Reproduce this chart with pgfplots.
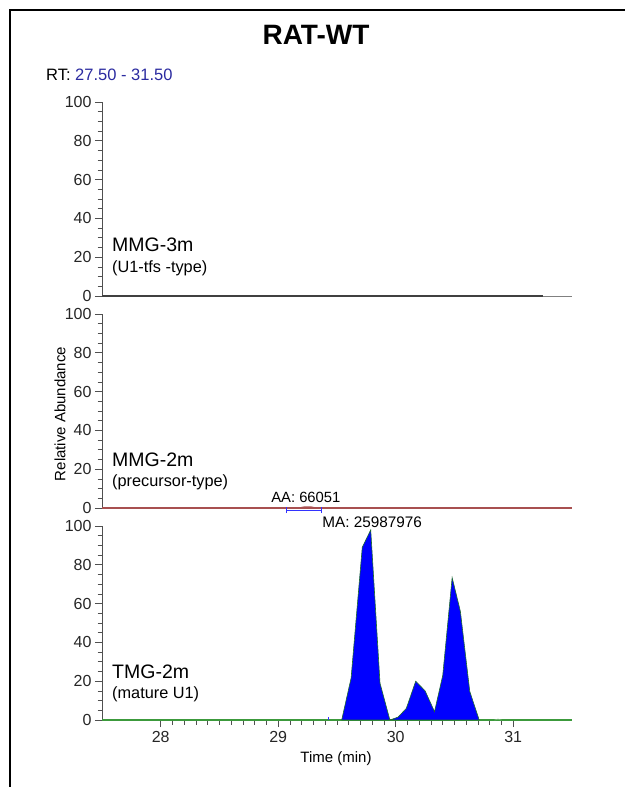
\documentclass[border=0pt]{standalone}
\usepackage{pgfplots}
\pgfplotsset{compat=1.18}
\usepackage{fontspec}
\setmainfont{Liberation Sans}
\definecolor{axgray}{HTML}{505050}
\definecolor{tracegray}{HTML}{404040}
\definecolor{basegreen}{HTML}{3C9A3C}
\definecolor{edgegreen}{HTML}{1E6B2E}
\definecolor{peakblue}{HTML}{0000FF}
\definecolor{rtblue}{HTML}{2B2BA0}
\definecolor{basered}{HTML}{A85050}
\pgfplotsset{
  panel/.style={
    scale only axis, width=470pt, height=194pt,
    xmin=27.5, xmax=31.5, ymin=0, ymax=100,
    axis y line*=left,
    axis line style={axgray, line width=0.8pt},
    ytick={0,20,...,100}, minor y tick num=3,
    tick align=outside,
    major tick length=7pt, minor tick length=4.5pt,
    every tick/.style={axgray, line width=0.6pt},
    tick label style={font=\fontsize{16}{19}\selectfont, text=black!85},
    /pgf/number format/assume math mode=true,
    clip=false,
  },
}
\newcommand{\lblbig}{\fontsize{19.5}{22}\selectfont}
\newcommand{\lblsmall}{\fontsize{16.3}{19}\selectfont}
\begin{document}
\begin{tikzpicture}
\useasboundingbox (0pt,0pt) rectangle (625pt,787pt);
% frame
\draw[black, line width=1.4pt] (10pt,0pt) -- (10pt,777pt) -- (625pt,777pt);
% title and RT range
\node[font=\bfseries\fontsize{28}{32}\selectfont] at (316pt,752pt) {RAT-WT};
\node[anchor=west, font=\fontsize{16.5}{19}\selectfont, inner sep=0] at (46pt,712pt) {RT: \textcolor{rtblue}{27.50 - 31.50}};
% y label and x label
\node[rotate=90, font=\fontsize{15}{18}\selectfont] at (60pt,373pt) {Relative Abundance};
\node[font=\fontsize{15}{18}\selectfont] at (336pt,28pt) {Time (min)};

% ---------- Panel 1: MMG-3m ----------
\begin{axis}[panel, at={(102pt,491pt)}, anchor=south west, axis x line=none]
\addplot[tracegray, line width=1.3pt] coordinates {(27.5,0) (28.5,0) (29.5,0) (30.5,0) (31.25,0)};
\addplot[gray, line width=1.3pt] coordinates {(31.25,-0.2) (31.5,-0.2)};
\node[anchor=west, font=\lblbig, inner sep=0] at (axis cs:27.585,26.3) {MMG-3m};
\node[anchor=west, font=\lblsmall, inner sep=0] at (axis cs:27.585,14.4) {(U1-tfs -type)};
\end{axis}

% ---------- Panel 2: MMG-2m ----------
\begin{axis}[panel, at={(102pt,279pt)}, anchor=south west, axis x line=none]
\addplot[basered, line width=1.1pt] coordinates {(27.5,0) (28.5,0) (29.5,0) (30.5,0) (31.5,0)};
\addplot[blue!80, line width=0.6pt] coordinates {(29.07,-1.2) (29.37,-1.2)};
\addplot[blue!80, line width=0.6pt] coordinates {(29.07,-2.6) (29.07,0.6)};
\addplot[blue!80, line width=0.6pt] coordinates {(29.37,-2.6) (29.37,0.6)};
\addplot[basered, line width=0.8pt] coordinates {(29.17,0) (29.22,0.6) (29.28,0.6) (29.33,0)};
\node[font=\fontsize{14.8}{17}\selectfont, inner sep=0] at (axis cs:29.235,5.7) {AA: 66051};
\node[anchor=west, font=\lblbig, inner sep=0] at (axis cs:27.585,24.7) {MMG-2m};
\node[anchor=west, font=\lblsmall, inner sep=0] at (axis cs:27.585,13.4) {(precursor-type)};
\end{axis}

% ---------- Panel 3: TMG-2m ----------
\begin{axis}[panel, at={(102pt,67pt)}, anchor=south west,
  axis x line*=bottom,
  xtick={28,29,30,31}, minor x tick num=9,
  xticklabel style={yshift=-1pt},
]
\addplot[basegreen, line width=1.2pt] coordinates {(27.5,0) (28.5,0) (29.5,0) (30.5,0) (31.5,0)};
\addplot[fill=peakblue, draw=edgegreen, line width=0.6pt] coordinates {
  (29.54,0) (29.62,21.6) (29.715,89) (29.787,98) (29.866,19) (29.95,0)
  (30.02,1.5) (30.09,6) (30.17,20) (30.25,15) (30.33,4.3) (30.40,23)
  (30.48,73.4) (30.55,56) (30.63,14.7) (30.71,0)
} \closedcycle;
\addplot[blue!80, line width=0.8pt] coordinates {(29.43,0) (29.43,1.6)};
\addplot[basegreen!70, line width=0.8pt] coordinates {(30.84,0) (30.87,0.4) (30.90,0)};
\node[font=\fontsize{15.3}{18}\selectfont, inner sep=0] at (axis cs:29.80,102) {MA: 25987976};
\node[anchor=west, font=\lblbig, inner sep=0] at (axis cs:27.585,24.9) {TMG-2m};
\node[anchor=west, font=\lblsmall, inner sep=0] at (axis cs:27.585,13) {(mature U1)};
\end{axis}
\end{tikzpicture}
\end{document}
